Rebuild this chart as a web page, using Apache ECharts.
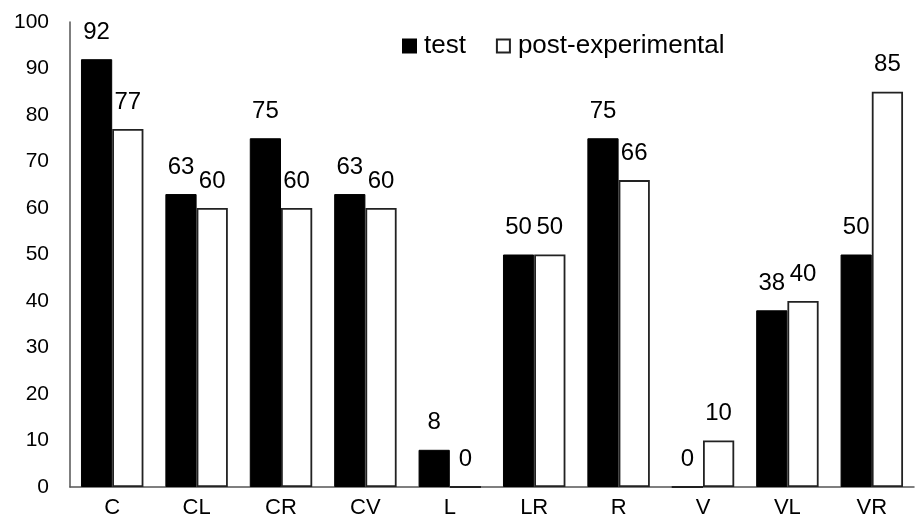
<!DOCTYPE html>
<html><head><meta charset="utf-8">
<script src="https://cdn.jsdelivr.net/npm/echarts@6/dist/echarts.min.js"></script>
<style>html,body{margin:0;padding:0;background:#fff}#c{width:921px;height:527px}</style>
</head><body><div id="c"></div>
<script>
const categories = ['C','CL','CR','CV','L','LR','R','V','VL','VR'];
const testValues = [92,63,75,63,8,50,75,0,38,50];
const postValues = [77,60,60,60,0,50,66,10,40,85];

const chart = echarts.init(document.getElementById('c'));
const font = 'Liberation Sans, Arial, Helvetica, sans-serif';
chart.setOption({
  animation:false,
  textStyle:{fontFamily:font},
  legend:{
    top:28, left:397, itemGap:30, itemWidth:13, itemHeight:13,
    textStyle:{fontSize:26,color:'#000',fontFamily:font,padding:[0,0,0,3]},
    data:[{name:'test',icon:'rect'},{name:'post-experimental',icon:'rect'}]
  },
  grid:{left:70,right:7,top:22,bottom:40,containLabel:false},
  xAxis:{
    type:'category', data:categories,
    axisLine:{lineStyle:{color:'#555',width:1.5}},
    axisTick:{show:false},
    axisLabel:{color:'#000',fontSize:22,margin:10,fontFamily:font}
  },
  yAxis:{
    type:'value', min:0, max:100, interval:10,
    axisLine:{show:true,lineStyle:{color:'#555',width:1.5}},
    axisTick:{show:false},
    splitLine:{show:false},
    axisLabel:{color:'#000',fontSize:21,margin:21,fontFamily:font}
  },
  series:[
    {name:'test',type:'bar',data:testValues,barGap:'0%',barCategoryGap:'26%',
     itemStyle:{color:'#000',borderColor:'#000',borderWidth:1},
     label:{show:true,position:'top',distance:15,color:'#000',fontSize:24,fontFamily:font}},
    {name:'post-experimental',type:'bar',data:postValues,barGap:'0%',barCategoryGap:'26%',
     itemStyle:{color:'#fff',borderColor:'#222',borderWidth:1.8},
     label:{show:true,position:'top',distance:15,color:'#000',fontSize:24,fontFamily:font}}
  ]
});
</script></body></html>
